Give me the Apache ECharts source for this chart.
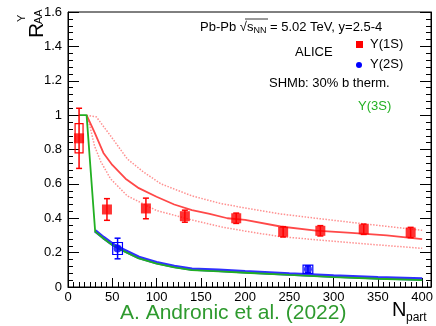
<!DOCTYPE html>
<html><head><meta charset="utf-8">
<script src="https://cdn.jsdelivr.net/npm/echarts@6/dist/echarts.min.js"></script>
<style>html,body{margin:0;padding:0;background:#fff}#c{width:436px;height:326px}</style>
</head><body><div id="c"></div>
<script>
// ---- data ----
var xTicks = [0, 50, 100, 150, 200, 250, 300, 350, 400];
var yTicks = [0, 0.2, 0.4, 0.6, 0.8, 1, 1.2, 1.4, 1.6];
// ALICE Upsilon(1S)
var npart1S = [12.5, 44, 88, 132, 190, 243, 285, 334, 387];
var raa1S   = [0.865, 0.451, 0.457, 0.412, 0.40, 0.321, 0.327, 0.336, 0.317];
var stat1S  = [0.175, 0.063, 0.06, 0.035, 0.03, 0.03, 0.03, 0.03, 0.03];
var sys1S   = [0.085, 0, 0, 0, 0, 0, 0, 0, 0];
// ALICE Upsilon(2S)
var npart2S = [56, 271];
var raa2S   = [0.224, 0.103];
var stat2S  = [0.06, 0.02];
var sys2S   = [0.035, 0.024];
// SHMb model, Upsilon(1S) central and band edges
var modelX1S   = [21, 30, 40, 50, 65, 80, 100, 120, 140, 160, 180, 200, 240, 280, 320, 360, 400];
var model1S    = [1.0, 0.9, 0.78, 0.71, 0.63, 0.575, 0.525, 0.48, 0.447, 0.425, 0.40, 0.39, 0.352, 0.328, 0.315, 0.30, 0.278];
var modelUpX   = [21, 32, 48, 67, 85, 105, 140, 173, 200, 240, 280, 330, 400];
var modelUp    = [1.0, 0.99, 0.88, 0.745, 0.67, 0.60, 0.53, 0.485, 0.46, 0.425, 0.40, 0.37, 0.33];
var modelLoX   = [21, 25, 30, 37, 48, 67, 100, 140, 173, 200, 240, 280, 330, 400];
var modelLo    = [1.0, 0.93, 0.82, 0.73, 0.63, 0.53, 0.445, 0.39, 0.35, 0.325, 0.293, 0.275, 0.253, 0.225];
// SHMb model, Upsilon(2S) and Upsilon(3S)
var modelX2S   = [30.7, 40, 50, 60, 80, 100, 120, 140, 170, 200, 250, 300, 350, 400];
var model2S    = [0.327, 0.288, 0.25, 0.222, 0.172, 0.142, 0.12, 0.104, 0.097, 0.089, 0.076, 0.064, 0.054, 0.046];
var modelX3S   = [12.5, 21, 30.7, 40, 50, 60, 80, 100, 120, 140, 170, 200, 250, 300, 350, 400];
var model3S    = [1.0, 1.0, 0.322, 0.282, 0.244, 0.216, 0.166, 0.136, 0.114, 0.098, 0.091, 0.083, 0.07, 0.058, 0.048, 0.04];

function pairs(xs, ys) { return xs.map(function (x, i) { return [x, ys[i]]; }); }

var RED = '#ff0000', BLUE = '#0000ff';
var FONT = 'Liberation Sans';

function errSeries(xs, ys, stat, sys, color, boxHalfW) {
  return {
    type: 'custom', z: 5,
    data: xs.map(function (x, i) { return [x, ys[i], stat[i], sys[i]]; }),
    renderItem: function (params, api) {
      var x = api.value(0), y = api.value(1), e = api.value(2), s = api.value(3);
      var top = api.coord([x, y + e]), bot = api.coord([x, y - e]);
      var ch = [];
      ch.push({ type: 'line', shape: { x1: top[0], y1: top[1], x2: bot[0], y2: bot[1] }, style: { stroke: color, lineWidth: 1.5 } });
      ch.push({ type: 'line', shape: { x1: top[0] - 3, y1: top[1], x2: top[0] + 3, y2: top[1] }, style: { stroke: color, lineWidth: 1.5 } });
      ch.push({ type: 'line', shape: { x1: bot[0] - 3, y1: bot[1], x2: bot[0] + 3, y2: bot[1] }, style: { stroke: color, lineWidth: 1.5 } });
      if (s > 0) {
        var a = api.coord([x - boxHalfW, y + s]), b = api.coord([x + boxHalfW, y - s]);
        ch.push({ type: 'rect', shape: { x: a[0], y: a[1], width: b[0] - a[0], height: b[1] - a[1] }, style: { stroke: color, fill: 'none', lineWidth: 1.2 } });
      }
      return { type: 'group', children: ch };
    }
  };
}

var chart = echarts.init(document.getElementById('c'), null, { renderer: 'canvas' });
var tickLabelStyle = { fontFamily: FONT, fontSize: 13, color: '#000' };
chart.setOption({
  animation: false,
  grid: { left: 68, right: 4, top: 12, bottom: 39, show: true, borderColor: '#000', borderWidth: 1, backgroundColor: 'transparent' },
  xAxis: {
    type: 'value', min: 0, max: 410, interval: 50,
    axisLine: { lineStyle: { color: '#000', width: 1 } },
    axisTick: { inside: true, length: 9, lineStyle: { color: '#000' } },
    minorTick: { show: true, splitNumber: 8, length: 5, lineStyle: { color: '#000' } },
    splitLine: { show: false },
    axisLabel: Object.assign({ margin: 4, showMaxLabel: false, formatter: function (v) { return xTicks.indexOf(v) >= 0 ? String(v) : ''; } }, tickLabelStyle)
  },
  yAxis: [{
    type: 'value', min: 0, max: 1.6, interval: 0.2,
    axisLine: { lineStyle: { color: '#000', width: 1 } },
    axisTick: { inside: true, length: 11, lineStyle: { color: '#000' } },
    minorTick: { show: true, splitNumber: 5, length: 5, lineStyle: { color: '#000' } },
    splitLine: { show: false },
    axisLabel: Object.assign({ margin: 6, formatter: function (v) { var t = yTicks.filter(function (k) { return Math.abs(k - v) < 1e-6; }); return t.length ? String(+v.toFixed(1)) : ''; } }, tickLabelStyle)
  }, {
    type: 'value', min: 0, max: 1.6, interval: 0.2, position: 'right',
    axisLine: { show: true, lineStyle: { color: '#000', width: 1 } },
    axisTick: { inside: true, length: 11, lineStyle: { color: '#000' } },
    minorTick: { show: true, splitNumber: 5, length: 5, lineStyle: { color: '#000' } },
    splitLine: { show: false }, axisLabel: { show: false }
  }],
  series: [
    { type: 'line', data: pairs(modelUpX, modelUp), symbol: 'none', lineStyle: { color: '#ff9090', width: 1.5, type: [1.5, 1.5] }, z: 2 },
    { type: 'line', data: pairs(modelLoX, modelLo), symbol: 'none', lineStyle: { color: '#ff9090', width: 1.5, type: [1.5, 1.5] }, z: 2 },
    { type: 'line', data: pairs(modelX1S, model1S), symbol: 'none', lineStyle: { color: '#ff4848', width: 1.8 }, z: 3 },
    { type: 'line', data: pairs(modelX2S, model2S), symbol: 'none', lineStyle: { color: '#3030ff', width: 3.5 }, z: 3 },
    { type: 'line', data: pairs(modelX3S, model3S), symbol: 'none', lineStyle: { color: '#22b022', width: 1.8 }, z: 4 },
    errSeries(npart1S, raa1S, stat1S, sys1S, RED, 4.5),
    errSeries(npart2S, raa2S, stat2S, sys2S, BLUE, 5.5),
    { type: 'scatter', data: pairs(npart1S, raa1S), symbol: 'rect', symbolSize: 10, itemStyle: { color: RED }, z: 6 },
    { type: 'scatter', data: pairs(npart2S, raa2S), symbol: 'circle', symbolSize: 8, itemStyle: { color: BLUE }, z: 6 }
  ],
  graphic: [
    // y axis title R^Y_AA (rotated)
    { type: 'group', x: 27, y: 38, rotation: Math.PI / 2, children: [
      { type: 'text', x: 0, y: 0, style: { text: 'R', fontFamily: FONT, fontSize: 21, fill: '#000', textBaseline: 'bottom' } },
      { type: 'text', x: 16, y: -11, style: { text: 'Υ', fontFamily: FONT, fontSize: 11, fill: '#000', textBaseline: 'bottom' } },
      { type: 'text', x: 14, y: 6, style: { text: 'AA', fontFamily: FONT, fontSize: 11, fill: '#000', textBaseline: 'bottom' } }
    ] },
    // x axis title N_part
    { type: 'text', x: 392, y: 300, style: { text: 'N', fontFamily: FONT, fontSize: 20, fill: '#000' } },
    { type: 'text', x: 406, y: 312, style: { text: 'part', fontFamily: FONT, fontSize: 12, fill: '#000' } },
    // author
    { type: 'text', x: 120, y: 303, style: { text: 'A. Andronic et al. (2022)', fontFamily: FONT, fontSize: 21, fill: '#2e9a2e' } },
    // header
    { type: 'text', x: 200, y: 19, style: { rich: {
        a: { fontFamily: FONT, fontSize: 13, fill: '#000' },
        s: { fontFamily: FONT, fontSize: 13, fill: '#000' },
        n: { fontFamily: FONT, fontSize: 9, fill: '#000', padding: [7, 0, 0, 0] }
      }, text: '{a|Pb-Pb √}{s|s}{n|NN}{a| = 5.02 TeV, y=2.5-4}' } },
    { type: 'line', shape: { x1: 245, y1: 19, x2: 268, y2: 19 }, style: { stroke: '#000', lineWidth: 0.8 } },
    { type: 'text', x: 295, y: 46, style: { text: 'ALICE', fontFamily: FONT, fontSize: 13, fill: '#000' } },
    { type: 'rect', shape: { x: 356, y: 41, width: 7, height: 7 }, style: { fill: RED } },
    { type: 'text', x: 370, y: 38, style: { text: 'Υ(1S)', fontFamily: FONT, fontSize: 13, fill: '#000' } },
    { type: 'circle', shape: { cx: 359, cy: 65, r: 3 }, style: { fill: BLUE } },
    { type: 'text', x: 370, y: 58, style: { text: 'Υ(2S)', fontFamily: FONT, fontSize: 13, fill: '#000' } },
    { type: 'text', x: 269, y: 77, style: { text: 'SHMb: 30% b therm.', fontFamily: FONT, fontSize: 13, fill: '#000' } },
    { type: 'text', x: 358, y: 100, style: { text: 'Υ(3S)', fontFamily: FONT, fontSize: 13, fill: '#22b022' } }
  ]
});
</script></body></html>
